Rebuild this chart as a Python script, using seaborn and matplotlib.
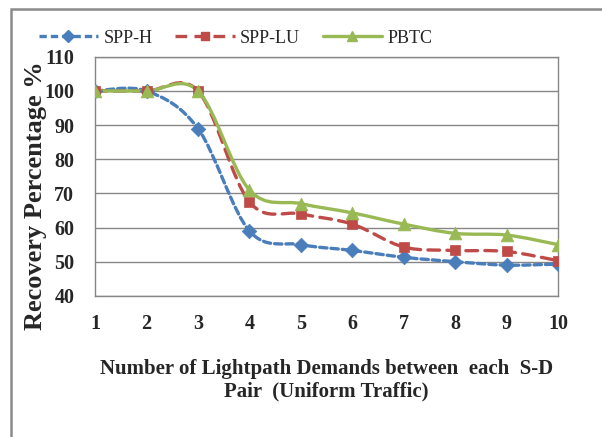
import matplotlib.pyplot as plt
import numpy as np
import pandas as pd
import seaborn as sns
from matplotlib.lines import Line2D
from matplotlib.patches import PathPatch, Rectangle
from matplotlib.path import Path

# values
demands = [1, 2, 3, 4, 5, 6, 7, 8, 9, 10]
spp_h = [100, 100, 89, 59, 55, 53.3, 51.3, 50, 49, 49.3]
spp_lu = [100, 100, 100, 67.5, 64, 61, 54.3, 53.3, 53, 50.3]
pbtc = [100, 100, 100, 71, 67, 64.3, 61, 58.3, 57.8, 55]

series_names = ["SPP-H", "SPP-LU", "PBTC"]
colors = {"SPP-H": "#4A7EBB", "SPP-LU": "#BE4B48", "PBTC": "#98B954"}
markers = {"SPP-H": "D", "SPP-LU": "s", "PBTC": "^"}
dashes = {"SPP-H": (0, (2.2, 1.2)), "SPP-LU": (0, (3.5, 2.2)), "PBTC": "-"}
sizes = {"SPP-H": 55, "SPP-LU": 55, "PBTC": 85}

df = pd.DataFrame({
    "x": demands * 3,
    "y": spp_h + spp_lu + pbtc,
    "series": [s for s in series_names for _ in demands],
})

sns.set_style("white")
plt.rcParams["font.family"] = ["Liberation Serif", "DejaVu Serif"]

fig = plt.figure(figsize=(6.02, 4.37), dpi=100)
ax = fig.add_axes([0.158, 0.323, 0.769, 0.547])


def smooth_path(xs, ys):
    # Excel-style smoothed line: cubic Bezier through each point
    pts = np.column_stack([xs, ys]).astype(float)
    n = len(pts)
    verts = [pts[0]]
    codes = [Path.MOVETO]
    for i in range(n - 1):
        p0 = pts[max(i - 1, 0)]
        p1 = pts[i]
        p2 = pts[i + 1]
        p3 = pts[min(i + 2, n - 1)]
        verts += [p1 + (p2 - p0) / 6, p2 - (p3 - p1) / 6, p2]
        codes += [Path.CURVE4] * 3
    return Path(verts, codes)


for name, vals in zip(series_names, [spp_h, spp_lu, pbtc]):
    patch = PathPatch(smooth_path(demands, vals), facecolor="none",
                      edgecolor=colors[name], lw=2.4, linestyle=dashes[name],
                      capstyle="round", zorder=3)
    ax.add_patch(patch)

for name in series_names:
    sub = df[df["series"] == name]
    sns.scatterplot(data=sub, x="x", y="y", ax=ax, color=colors[name],
                    marker=markers[name], s=sizes[name], edgecolor=colors[name],
                    linewidth=0.5, zorder=4, legend=False)

ax.set_xlim(1, 10)
ax.set_ylim(40, 110)
ax.set_xticks(demands)
ax.set_yticks(range(40, 111, 10))
ax.yaxis.grid(True, color="#878787", lw=1)
ax.xaxis.grid(False)
for sp in ax.spines.values():
    sp.set_color("#878787")
    sp.set_linewidth(1)
ax.tick_params(axis="both", direction="out", length=5, width=1, color="#878787",
               labelsize=14.5)
ax.tick_params(axis="y", pad=10)
ax.tick_params(axis="x", pad=8)
for lab in ax.get_xticklabels() + ax.get_yticklabels():
    lab.set_fontweight("bold")

ax.set_xlabel("Number of Lightpath Demands between  each  S-D\nPair  (Uniform Traffic)",
              fontsize=15, fontweight="bold", labelpad=18, linespacing=1.2)
ax.set_ylabel("Recovery Percentage %", fontsize=19, fontweight="bold")
ax.yaxis.set_label_coords(-0.105, 0.418)

handles = [Line2D([], [], color=colors[n], lw=2.4, linestyle=dashes[n],
                  marker=markers[n], markersize=6 if n != "PBTC" else 7)
           for n in series_names]
fig.legend(handles, series_names, loc="center left", bbox_to_anchor=(0.037, 0.913),
           ncol=3, frameon=False, fontsize=13, handlelength=3.3,
           columnspacing=1.25, handletextpad=0.3)

# outer chart border, cut off at right and bottom like the source image
fig.patches.append(Rectangle((11 / 602, -0.1), 1.2, (437 - 9) / 437 + 0.1,
                             transform=fig.transFigure, fill=False,
                             edgecolor="#8a8a8a", lw=1.8))

fig.savefig("out.png", dpi=100)
